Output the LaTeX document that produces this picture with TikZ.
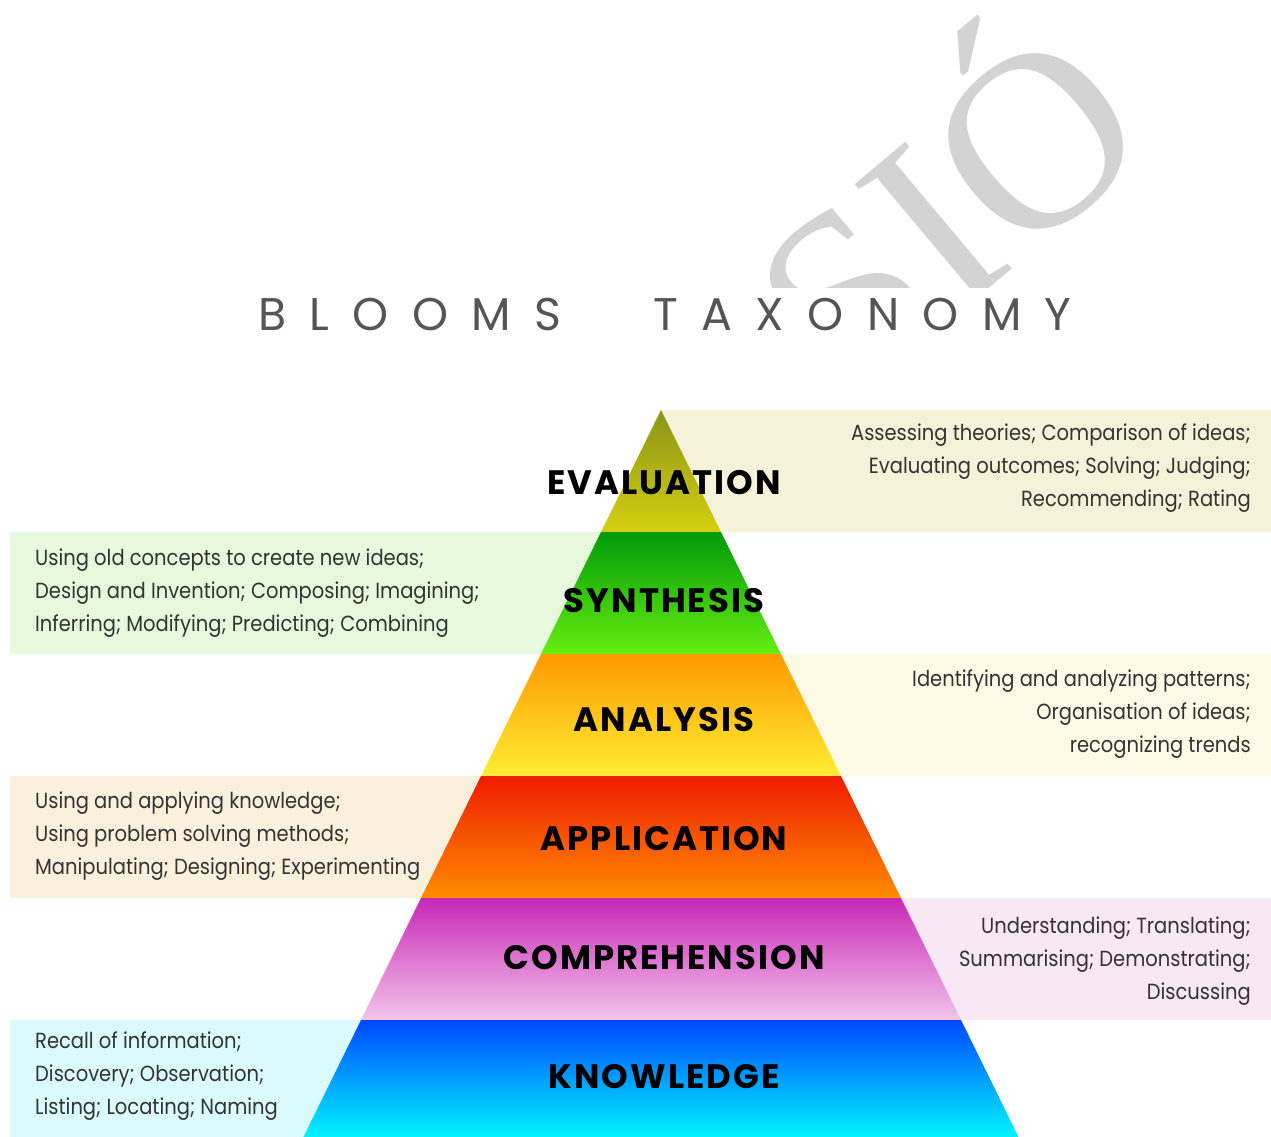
\documentclass[tikz,border=0pt]{standalone}
\usepackage{fontspec}
\setmainfont[FakeStretch=0.89]{Poppins}
\newfontfamily\levelfont[LetterSpace=6]{Poppins}
\newfontfamily\headfont[LetterSpace=51]{Poppins}
\newfontfamily\stampfont{Liberation Serif}

\definecolor{evaltop}{HTML}{8C9418}
\definecolor{evalbot}{HTML}{D6D010}
\definecolor{synthtop}{HTML}{009A0A}
\definecolor{synthbot}{HTML}{66EE11}
\definecolor{analtop}{HTML}{FF9900}
\definecolor{analbot}{HTML}{FFEE33}
\definecolor{appltop}{HTML}{EE1C00}
\definecolor{applbot}{HTML}{FF8C00}
\definecolor{comptop}{HTML}{C828B8}
\definecolor{compbot}{HTML}{F2C4EA}
\definecolor{knowtop}{HTML}{0048FF}
\definecolor{knowbot}{HTML}{00F4FF}
\definecolor{evalbox}{HTML}{F5F2D9}
\definecolor{synthbox}{HTML}{E6F9DC}
\definecolor{analbox}{HTML}{FCFAE5}
\definecolor{applbox}{HTML}{FBF0DC}
\definecolor{compbox}{HTML}{F8E7F5}
\definecolor{knowbox}{HTML}{DBFAFC}
\definecolor{notegray}{HTML}{333333}
\definecolor{headgray}{HTML}{555555}
\definecolor{stampgray}{HTML}{D3D3D3}

\begin{document}
\begin{tikzpicture}[x=1bp,y=-1bp,
    level/.style={font=\levelfont\bfseries\fontsize{34}{34}\selectfont,inner sep=0},
    note/.style={font=\fontsize{22}{33}\selectfont,text=notegray,inner sep=0},
    head/.style={font=\headfont\fontsize{46}{46}\selectfont,text=headgray,inner sep=0}]
    \useasboundingbox (0,0) rectangle (1271,1137);

    % stamp behind the title
    \begin{scope}
        \clip (600,0) rectangle (1271,287);
        \node[rotate=40,anchor=base west,inner sep=0,text=stampgray,
            font=\stampfont\fontsize{254}{254}\selectfont] (stamp) at (847,408) {SIÓ};
    \end{scope}

    \node[head] (title) at (665,314) {BLOOMS\hspace{92bp}TAXONOMY};

    % side boxes
    \fill[evalbox](661,410) rectangle (1271,532);
    \fill[synthbox](10,532) rectangle (661,654);
    \fill[analbox](661,654) rectangle (1271,776);
    \fill[applbox](10,776) rectangle (661,898);
    \fill[compbox](661,898) rectangle (1271,1020);
    \fill[knowbox](10,1020) rectangle (661,1137);

    % pyramid
    \foreach \ya/\yb/\ca/\cb in {410/532/evaltop/evalbot,532/654/synthtop/synthbot,
        654/776/analtop/analbot,776/898/appltop/applbot,
        898/1020/comptop/compbot,1020/1137/knowtop/knowbot}{
        \shade[top color=\ca,bottom color=\cb]
            ({661-(\ya-410)*0.4918},\ya)--({661+(\ya-410)*0.4918},\ya)
            --({661+(\yb-410)*0.4918},\yb)--({661-(\yb-410)*0.4918},\yb)--cycle;
    }

    \node[level] (evaluation) at (664,483) {EVALUATION};
    \node[level] (synthesis) at (664,601) {SYNTHESIS};
    \node[level] (analysis) at (664,720) {ANALYSIS};
    \node[level] (application) at (664,839) {APPLICATION};
    \node[level] (comprehension) at (664,958) {COMPREHENSION};
    \node[level] (knowledge) at (664,1077) {KNOWLEDGE};

    \node[note,anchor=east,align=right] (evalnote) at (1251,468)
        {Assessing theories; Comparison of ideas;\\Evaluating outcomes; Solving; Judging;\\Recommending; Rating};
    \node[note,anchor=west,align=left] (synthnote) at (35,593)
        {Using old concepts to create new ideas;\\Design and Invention; Composing; Imagining;\\Inferring; Modifying; Predicting; Combining};
    \node[note,anchor=east,align=right] (analnote) at (1251,714)
        {Identifying and analyzing patterns;\\Organisation of ideas;\\recognizing trends};
    \node[note,anchor=west,align=left] (applnote) at (35,836)
        {Using and applying knowledge;\\Using problem solving methods;\\Manipulating; Designing; Experimenting};
    \node[note,anchor=east,align=right] (compnote) at (1251,961)
        {Understanding; Translating;\\Summarising; Demonstrating;\\Discussing};
    \node[note,anchor=west,align=left] (knownote) at (35,1076)
        {Recall of information;\\Discovery; Observation;\\Listing; Locating; Naming};
\end{tikzpicture}
\end{document}
